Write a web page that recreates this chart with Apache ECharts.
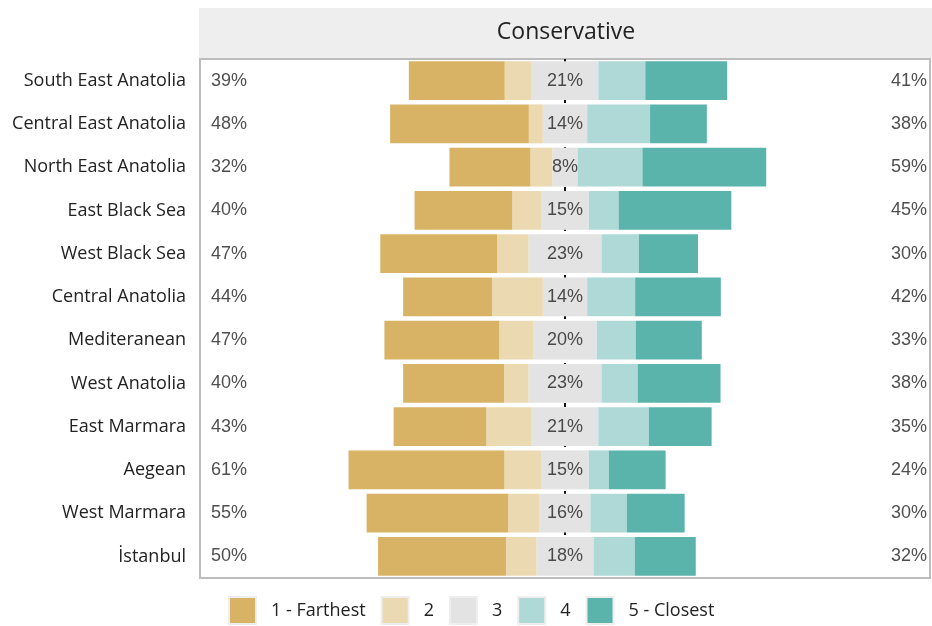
<!DOCTYPE html>
<html>
<head>
<meta charset="utf-8">
<script src="https://cdn.jsdelivr.net/npm/echarts@6/dist/echarts.min.js"></script>
<style>
  html, body { margin: 0; padding: 0; background: #fff; }
  #main { width: 932px; height: 626px; }
</style>
</head>
<body>
<div id="main"></div>
<script>
// regions, top to bottom
const regions = ['South East Anatolia', 'Central East Anatolia', 'North East Anatolia', 'East Black Sea',
  'West Black Sea', 'Central Anatolia', 'Mediteranean', 'West Anatolia', 'East Marmara', 'Aegean',
  'West Marmara', 'İstanbul']

// shares per answer (%)
const farthest = [30.2, 43.7, 25.5, 30.8, 36.8, 28.0, 36.2, 31.8, 29.2, 49.1, 44.6, 40.3]
const two = [8.5, 4.4, 6.9, 9.1, 9.9, 16.0, 10.7, 7.7, 14.3, 11.6, 9.9, 9.6]
const three = [21, 14, 8, 15, 23, 14, 20, 23, 21, 15, 16, 18]
const four = [14.8, 19.8, 20.4, 9.4, 11.8, 15.1, 12.3, 11.4, 15.9, 6.3, 11.5, 13.0]
const closest = [25.8, 17.9, 39.0, 35.5, 18.6, 27.0, 20.8, 26.1, 19.8, 17.9, 18.2, 19.2]

// printed totals
const leftPct = [39, 48, 32, 40, 47, 44, 47, 40, 43, 61, 55, 50]
const rightPct = [41, 38, 59, 45, 30, 42, 33, 38, 35, 24, 30, 32]

const legendNames = ['1 - Farthest', '2', '3', '4', '5 - Closest']
const colors = ['#D8B365', '#EBD9B1', '#E3E3E3', '#AED9D6', '#5BB4AC']

const XMIN = -115
const XMAX = 115
const FONT = 'Open Sans'
const PCT_FONT = 'Liberation Sans'

const chart = echarts.init(document.getElementById('main'))

function barSeries (name, data, color) {
  return {
    name: name,
    type: 'bar',
    stack: 'total',
    barCategoryGap: '10%',
    z: 3,
    itemStyle: { color: color },
    emphasis: { disabled: true },
    data: data
  }
}

function labelSeries (data, pos, dist) {
  return {
    type: 'scatter',
    symbolSize: 0,
    z: 5,
    silent: true,
    label: {
      show: true,
      position: pos,
      distance: dist,
      formatter: p => p.data[2] + '%',
      fontFamily: PCT_FONT,
      fontSize: 18,
      color: '#222'
    },
    data: data
  }
}

const option = {
  animation: false,
  textStyle: { fontFamily: FONT },
  graphic: [
    {
      type: 'rect',
      shape: { x: 199, y: 8, width: 733, height: 50 },
      style: { fill: '#EEEEEE' },
      z: 0
    },
    {
      type: 'text',
      x: 566, y: 32,
      style: {
        text: 'Conservative',
        fontFamily: FONT,
        fontSize: 23,
        fill: '#222',
        align: 'center',
        verticalAlign: 'middle'
      }
    }
  ],
  grid: {
    left: 200, right: 2, top: 59, bottom: 48,
    show: true,
    borderColor: '#BDBDBD',
    borderWidth: 2,
    backgroundColor: '#fff'
  },
  legend: {
    data: legendNames,
    top: 591,
    left: 223,
    itemWidth: 27,
    itemHeight: 27,
    itemGap: 15,
    icon: 'rect',
    itemStyle: { borderColor: '#EEEEEE', borderWidth: 2 },
    textStyle: { fontFamily: FONT, fontSize: 18, color: '#222', padding: [0, 0, 0, 10] }
  },
  xAxis: {
    type: 'value',
    min: XMIN,
    max: XMAX,
    axisLine: { show: false },
    axisTick: { show: false },
    axisLabel: { show: false },
    splitLine: { show: false }
  },
  yAxis: {
    type: 'category',
    inverse: true,
    data: regions,
    axisLine: { show: false },
    axisTick: { show: false },
    axisLabel: { fontFamily: FONT, fontSize: 18, color: '#222', margin: 14 }
  },
  series: [
    {
      // dashed centre line, behind the bars
      name: 'centre',
      type: 'line',
      z: 1,
      data: [],
      markLine: {
        silent: true,
        symbol: 'none',
        z: 1,
        label: { show: false },
        lineStyle: { color: '#111', type: [4, 4], width: 2 },
        data: [{ xAxis: 0 }]
      }
    },
    barSeries('3', three.map(v => -v / 2), colors[2]),
    barSeries('3', three.map(v => v / 2), colors[2]),
    barSeries('2', two.map(v => -v), colors[1]),
    barSeries('4', four, colors[3]),
    barSeries('1 - Farthest', farthest.map(v => -v), colors[0]),
    barSeries('5 - Closest', closest, colors[4]),
    labelSeries(three.map((v, i) => [0, i, v]), 'inside', 0),
    labelSeries(leftPct.map((v, i) => [XMIN, i, v]), 'right', 11),
    labelSeries(rightPct.map((v, i) => [XMAX, i, v]), 'left', 3)
  ]
}

chart.setOption(option)
</script>
</body>
</html>
